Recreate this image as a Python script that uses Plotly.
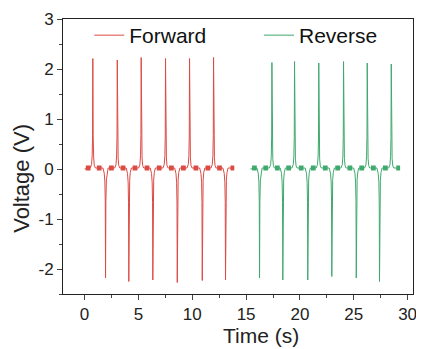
import plotly.graph_objects as go

# ---- data ----
series_names = ["Forward", "Reverse"]
series_colors = ["#dc4a44", "#3fa96e"]

fwd_start, fwd_end = 0.0, 13.9
fwd_peak_t = [0.77, 1.95, 3.04, 4.11, 5.26, 6.34, 7.52, 8.61, 9.75, 10.93, 11.98, 13.09]
fwd_peak_v = [2.21, -2.18, 2.18, -2.25, 2.23, -2.22, 2.21, -2.27, 2.21, -2.23, 2.23, -2.22]

rev_start, rev_end = 15.4, 29.3
rev_peak_t = [16.25, 17.40, 18.41, 19.50, 20.73, 21.75, 22.96, 24.05, 25.23, 26.25, 27.39, 28.48]
rev_peak_v = [-2.18, 2.13, -2.22, 2.15, -2.22, 2.12, -2.15, 2.15, -2.18, 2.12, -2.25, 2.10]

plateau_level = 0.02

# pulse shape (relative time offsets / fraction of the peak)
pulse_dt = [-0.24, -0.12, -0.06, -0.025, 0.0, 0.03, 0.08, 0.14, 0.24]
pulse_f = [0.0, 0.04, 0.12, 0.3, 1.0, 0.3, 0.1, 0.03, 0.0]

x_ticks = [0, 5, 10, 15, 20, 25, 30]
x_tick_text = ["0", "5", "10", "15", "20", "25", "30"]
y_ticks = [-2, -1, 0, 1, 2, 3]
y_tick_text = ["-2", "-1", "0", "1", "2", "3"]
x_title = "Time (s)"
y_title = "Voltage (V)"

FONT = "Liberation Sans, Arial"


def build(start, end, pt, pv):
    xs, ys = [start], [0.0]
    for t, v in zip(pt, pv):
        for dt, f in zip(pulse_dt, pulse_f):
            xs.append(t + dt)
            ys.append(v * f + (plateau_level if f == 0 else 0))
    xs.append(end)
    ys.append(plateau_level)
    # thick plateau segments between pulses
    px, py = [], []
    bounds = [start - 0.1] + list(pt) + [end + 0.55]
    for a, b in zip(bounds[:-1], bounds[1:]):
        m = (a + b) / 2
        lo = max(m - 0.22, start)
        hi = min(m + 0.22, end)
        px += [lo, hi, None]
        py += [plateau_level, plateau_level, None]
    return xs, ys, px, py


fig = go.Figure()
data = [(fwd_start, fwd_end, fwd_peak_t, fwd_peak_v), (rev_start, rev_end, rev_peak_t, rev_peak_v)]
legend_ids = ["legend", "legend2"]
for name, col, d, lg in zip(series_names, series_colors, data, legend_ids):
    xs, ys, px, py = build(*d)
    fig.add_trace(go.Scatter(x=xs, y=ys, mode="lines", name=name, legend=lg,
                             line=dict(color=col, width=1)))
    fig.add_trace(go.Scatter(x=px, y=py, mode="lines", showlegend=False,
                             line=dict(color=col, width=5)))

axis_common = dict(showline=True, linecolor="#222", linewidth=1, mirror=True,
                   ticks="outside", tickcolor="#444", ticklen=5, showgrid=False,
                   zeroline=False, automargin=False,
                   tickfont=dict(family=FONT, size=17, color="#222"))

fig.update_xaxes(range=[-2, 30.5], tickvals=x_ticks, ticktext=x_tick_text,
                 minor=dict(ticks="outside", ticklen=3, dtick=2.5, tick0=0, tickcolor="#444"),
                 **axis_common)
fig.update_yaxes(range=[-2.5, 3], tickvals=y_ticks, ticktext=y_tick_text,
                 minor=dict(ticks="outside", ticklen=3, dtick=0.5, tick0=0, tickcolor="#444"),
                 **axis_common)

# axis titles as annotations to match their off-centre placement
fig.add_annotation(text=x_title, xref="paper", yref="paper", x=0.566, y=-0.152,
                   xanchor="center", yanchor="middle", showarrow=False,
                   font=dict(family=FONT, size=21, color="#222"))
fig.add_annotation(text=y_title, xref="paper", yref="paper", x=-0.117, y=0.419,
                   xanchor="center", yanchor="middle", showarrow=False, textangle=-90,
                   font=dict(family=FONT, size=22, color="#222"))

legend_common = dict(orientation="h", yanchor="middle", xanchor="left",
                     bgcolor="rgba(0,0,0,0)",
                     font=dict(family=FONT, size=21, color="#111"))
fig.update_layout(
    width=416, height=341,
    margin=dict(l=55, r=11, t=7, b=55),
    plot_bgcolor="white", paper_bgcolor="white",
    legend=dict(x=0.075, y=0.94, **legend_common),
    legend2=dict(x=0.56, y=0.94, **legend_common),
)

fig.write_html("out.html")
